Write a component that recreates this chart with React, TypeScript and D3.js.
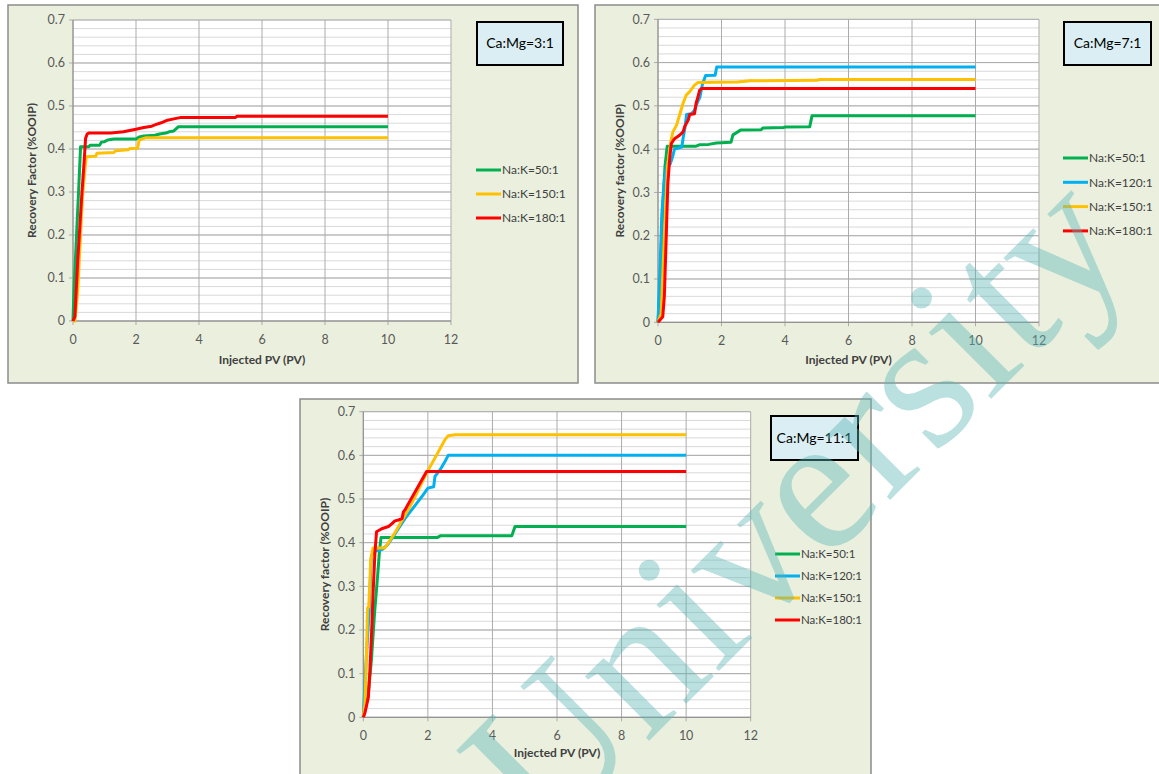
import React from "react";
import * as d3 from "d3";

// tick values
const xTicks = [0, 2, 4, 6, 8, 10, 12];
const yTicks = [0, 0.1, 0.2, 0.3, 0.4, 0.5, 0.6, 0.7];

const colors = {
  na50: "#00B050",
  na120: "#00B0F0",
  na150: "#FFC000",
  na180: "#FF0000",
};

// Ca:Mg = 3:1
const p1Na50 = [[0,0],[0.03,0.07],[0.1,0.18],[0.17,0.29],[0.24,0.405],[0.5,0.405],[0.55,0.409],[0.85,0.409],[0.9,0.416],[1.0,0.417],[1.1,0.421],[1.3,0.423],[2.0,0.423],[2.1,0.428],[2.25,0.43],[2.6,0.432],[2.75,0.435],[2.95,0.437],[3.05,0.44],[3.2,0.442],[3.35,0.452],[10,0.452]];
const p1Na150 = [[0,0],[0.06,0],[0.1,0.03],[0.15,0.07],[0.245,0.21],[0.3,0.29],[0.36,0.34],[0.42,0.382],[0.72,0.383],[0.76,0.39],[1.3,0.392],[1.35,0.396],[1.75,0.398],[1.8,0.401],[2.05,0.402],[2.1,0.421],[2.3,0.426],[10,0.426]];
const p1Na180 = [[0,0],[0.06,0.01],[0.15,0.14],[0.275,0.289],[0.35,0.367],[0.4,0.425],[0.45,0.435],[0.5,0.437],[1.2,0.437],[1.6,0.44],[2.0,0.446],[2.25,0.45],[2.5,0.453],[2.6,0.456],[2.8,0.461],[3.0,0.467],[3.2,0.47],[3.4,0.473],[5.15,0.473],[5.2,0.476],[10,0.476]];

// Ca:Mg = 7:1
const p2Na50 = [[0,0],[0.08,0.1],[0.16,0.28],[0.22,0.36],[0.29,0.407],[1.2,0.407],[1.3,0.41],[1.6,0.411],[1.84,0.414],[2.3,0.416],[2.36,0.433],[2.45,0.437],[2.6,0.444],[3.25,0.445],[3.3,0.449],[3.95,0.45],[4.0,0.451],[4.78,0.452],[4.85,0.477],[10,0.477]];
const p2Na120 = [[0,0],[0.05,0.1],[0.12,0.25],[0.2,0.33],[0.3,0.37],[0.38,0.365],[0.45,0.38],[0.52,0.4],[0.75,0.405],[0.8,0.43],[0.85,0.45],[0.9,0.48],[1.05,0.482],[1.15,0.49],[1.25,0.51],[1.32,0.52],[1.4,0.55],[1.5,0.57],[1.8,0.571],[1.85,0.59],[10,0.59]];
const p2Na150 = [[0,0],[0.1,0.02],[0.2,0.2],[0.3,0.36],[0.37,0.4],[0.42,0.424],[0.47,0.44],[0.58,0.455],[0.68,0.479],[0.79,0.506],[0.89,0.525],[1.0,0.533],[1.15,0.548],[1.26,0.554],[2.5,0.555],[2.9,0.558],[5.0,0.559],[5.1,0.561],[10,0.561]];
const p2Na180 = [[0,0],[0.15,0.013],[0.2,0.06],[0.26,0.2],[0.31,0.32],[0.37,0.38],[0.42,0.413],[0.52,0.424],[0.68,0.432],[0.79,0.44],[0.84,0.452],[0.95,0.467],[1.0,0.48],[1.15,0.482],[1.2,0.506],[1.26,0.521],[1.31,0.536],[1.37,0.54],[10,0.54]];

// Ca:Mg = 11:1
const p3Na50 = [[0,0],[0.15,0.05],[0.25,0.13],[0.35,0.24],[0.45,0.33],[0.5,0.38],[0.55,0.412],[2.3,0.412],[2.4,0.416],[4.6,0.416],[4.7,0.437],[10,0.437]];
const p3Na120 = [[0,0],[0.08,0.12],[0.18,0.24],[0.25,0.37],[0.35,0.38],[0.6,0.385],[0.75,0.395],[0.98,0.42],[1.29,0.455],[1.6,0.485],[1.86,0.51],[2.0,0.525],[2.18,0.528],[2.22,0.552],[2.38,0.567],[2.53,0.586],[2.63,0.6],[10,0.6]];
const p3Na150 = [[0,0],[0.05,0.03],[0.1,0.146],[0.13,0.25],[0.17,0.253],[0.23,0.36],[0.3,0.388],[0.67,0.388],[0.78,0.4],[1.0,0.425],[1.5,0.49],[2.0,0.565],[2.22,0.594],[2.53,0.636],[2.63,0.645],[2.84,0.647],[10,0.647]];
const p3Na180 = [[0,0],[0.05,0.01],[0.155,0.045],[0.2,0.1],[0.26,0.2],[0.3,0.28],[0.36,0.376],[0.41,0.425],[0.57,0.432],[0.78,0.437],[0.88,0.443],[0.98,0.45],[1.09,0.452],[1.2,0.455],[1.24,0.47],[1.29,0.475],[1.96,0.563],[10,0.563]];

const panels = [
  {
    title: "Ca:Mg=3:1",
    yLabel: "Recovery Factor (%OOIP)",
    box: { x: 8, y: 5, w: 570, h: 378 },
    plot: { l: 73, t: 20, r: 451, b: 321 },
    yTitleX: 32, xTitleY: 364,
    tag: { x: 477, y: 22, w: 86, h: 43 },
    legend: { x: 476, y: 170, step: 24, font: 12 },
    series: [
      { name: "Na:K=50:1", data: p1Na50, color: colors.na50 },
      { name: "Na:K=150:1", data: p1Na150, color: colors.na150 },
      { name: "Na:K=180:1", data: p1Na180, color: colors.na180 },
    ],
  },
  {
    title: "Ca:Mg=7:1",
    yLabel: "Recovery factor (%OOIP)",
    box: { x: 595, y: 5, w: 575, h: 378 },
    plot: { l: 658, t: 19.3, r: 1039, b: 322.3 },
    yTitleX: 620, xTitleY: 364,
    tag: { x: 1064, y: 22, w: 87, h: 43 },
    legend: { x: 1063, y: 158, step: 24.3, font: 12 },
    series: [
      { name: "Na:K=50:1", data: p2Na50, color: colors.na50 },
      { name: "Na:K=120:1", data: p2Na120, color: colors.na120 },
      { name: "Na:K=150:1", data: p2Na150, color: colors.na150 },
      { name: "Na:K=180:1", data: p2Na180, color: colors.na180 },
    ],
  },
  {
    title: "Ca:Mg=11:1",
    yLabel: "Recovery factor (%OOIP)",
    box: { x: 300, y: 399, w: 571, h: 385 },
    plot: { l: 363.3, t: 411.7, r: 750.7, b: 717.3 },
    yTitleX: 325, xTitleY: 757,
    tag: { x: 771, y: 416, w: 87, h: 44 },
    legend: { x: 775, y: 554, step: 22, font: 11.5 },
    series: [
      { name: "Na:K=50:1", data: p3Na50, color: colors.na50 },
      { name: "Na:K=120:1", data: p3Na120, color: colors.na120 },
      { name: "Na:K=150:1", data: p3Na150, color: colors.na150 },
      { name: "Na:K=180:1", data: p3Na180, color: colors.na180 },
    ],
  },
];

const FONT = "Lato, 'Open Sans', sans-serif";

function Panel({ p }) {
  const x = d3.scaleLinear().domain([0, 12]).range([p.plot.l, p.plot.r]);
  const y = d3.scaleLinear().domain([0, 0.7]).range([p.plot.b, p.plot.t]);
  const minor = d3.range(0, 0.7001, 0.02);
  const line = d3.line().x((d) => x(d[0])).y((d) => y(d[1]));
  const cx = (p.plot.l + p.plot.r) / 2;
  const cy = (p.plot.t + p.plot.b) / 2;

  return (
    <g>
      <rect x={p.box.x} y={p.box.y} width={p.box.w} height={p.box.h}
        fill="#EBF0DE" stroke="#8C8C8C" strokeWidth={1.5} />
      <rect x={p.plot.l} y={p.plot.t} width={p.plot.r - p.plot.l} height={p.plot.b - p.plot.t} fill="#fff" />
      {minor.map((v, i) => (
        <line key={"m" + i} x1={p.plot.l} x2={p.plot.r} y1={y(v)} y2={y(v)} stroke="#D9D9D9" strokeWidth={1} />
      ))}
      {yTicks.map((v) => (
        <line key={"y" + v} x1={p.plot.l - 4} x2={p.plot.r} y1={y(v)} y2={y(v)} stroke="#ABABAB" strokeWidth={1} />
      ))}
      {xTicks.map((v) => (
        <line key={"x" + v} x1={x(v)} x2={x(v)} y1={p.plot.t} y2={p.plot.b + 4} stroke="#ABABAB" strokeWidth={1} />
      ))}
      <line x1={p.plot.l} x2={p.plot.r} y1={p.plot.b} y2={p.plot.b} stroke="#8C8C8C" strokeWidth={1} />
      <line x1={p.plot.l} x2={p.plot.l} y1={p.plot.t} y2={p.plot.b} stroke="#8C8C8C" strokeWidth={1} />
      {yTicks.map((v) => (
        <text key={"yl" + v} x={p.plot.l - 8} y={y(v)} dy="0.35em" textAnchor="end"
          fontFamily={FONT} fontSize={12.5} fill="#595959">{d3.format("")(+v.toFixed(1))}</text>
      ))}
      {xTicks.map((v) => (
        <text key={"xl" + v} x={x(v)} y={p.plot.b + 23} textAnchor="middle"
          fontFamily={FONT} fontSize={12.5} fill="#595959">{v}</text>
      ))}
      {p.series.map((s) => (
        <path key={s.name} d={line(s.data)} fill="none" stroke={s.color} strokeWidth={3} strokeLinejoin="round" />
      ))}
      <text x={cx} y={p.xTitleY} textAnchor="middle" fontFamily={FONT} fontWeight="bold"
        fontSize={12} fill="#404040">Injected PV (PV)</text>
      <text transform={`translate(${p.yTitleX},${cy}) rotate(-90)`} textAnchor="middle" dy="0.35em"
        fontFamily={FONT} fontWeight="bold" fontSize={12} fill="#404040">{p.yLabel}</text>
      <rect x={p.tag.x} y={p.tag.y} width={p.tag.w} height={p.tag.h} fill="#DAEEF3" stroke="#000" strokeWidth={2} />
      <text x={p.tag.x + p.tag.w / 2} y={p.tag.y + p.tag.h / 2} dy="0.35em" textAnchor="middle"
        fontFamily={FONT} fontSize={14} fill="#000">{p.title}</text>
      {p.series.map((s, i) => (
        <g key={"lg" + s.name}>
          <line x1={p.legend.x} x2={p.legend.x + 25} y1={p.legend.y + i * p.legend.step} y2={p.legend.y + i * p.legend.step}
            stroke={s.color} strokeWidth={3} />
          <text x={p.legend.x + 26} y={p.legend.y + i * p.legend.step} dy="0.35em" fontFamily={FONT}
            fontSize={p.legend.font} fill="#404040">{s.name}</text>
        </g>
      ))}
    </g>
  );
}

export default function App() {
  return (
    <div style={{ position: "absolute", left: 0, top: 0 }}>
      <svg width={1159} height={774} style={{ display: "block", background: "#fff" }}>
        {panels.map((p) => <Panel key={p.title} p={p} />)}
        <text transform="translate(545,845) rotate(-45)" fontFamily="'Liberation Serif', serif"
          fontSize={198} fill="#5BB5B5" fillOpacity={0.42}>University</text>
      </svg>
    </div>
  );
}
